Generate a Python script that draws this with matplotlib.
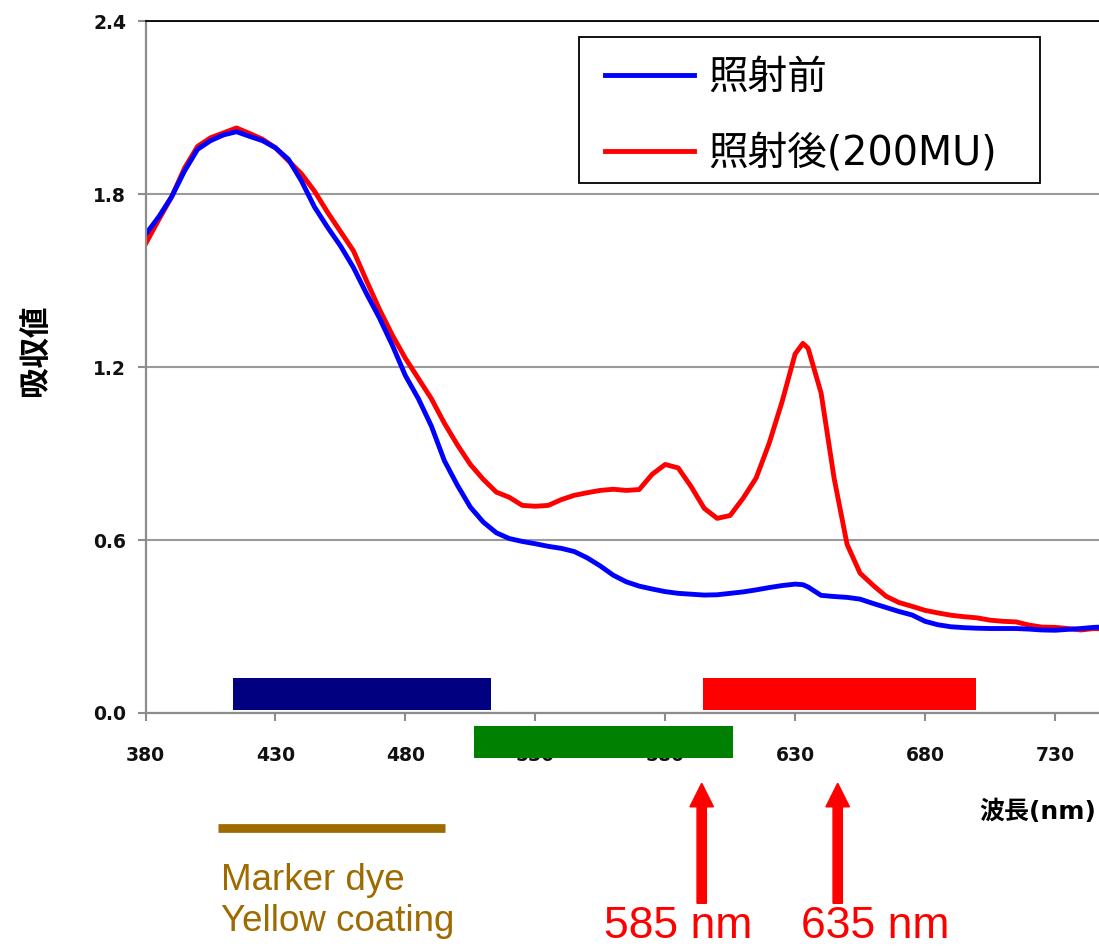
import matplotlib
matplotlib.use('Agg')
import matplotlib.pyplot as plt
from matplotlib.patches import FancyArrow, Rectangle
from matplotlib.font_manager import FontProperties

# ---------------- data ----------------
wavelength = [380, 385, 390, 395, 400, 405, 410, 415, 420, 425, 430, 435, 440, 445,
              450, 455, 460, 465, 470, 475, 480, 485, 490, 495, 500, 505, 510, 515,
              520, 525, 530, 535, 540, 545, 550, 555, 560, 565, 570, 575, 580, 585,
              590, 595, 600, 605, 610, 615, 620, 625, 630, 633, 635, 640, 645, 650,
              655, 660, 665, 670, 675, 680, 685, 690, 695, 700, 705, 710, 715, 720,
              725, 730, 735, 740, 745, 748]

before = [1.66, 1.72, 1.79, 1.88, 1.955, 1.985, 2.005, 2.016, 2.00, 1.985, 1.96, 1.92,
          1.845, 1.755, 1.685, 1.62, 1.545, 1.455, 1.37, 1.275, 1.17, 1.09, 0.995, 0.875,
          0.79, 0.714, 0.662, 0.625, 0.605, 0.595, 0.587, 0.578, 0.571, 0.56, 0.538,
          0.51, 0.478, 0.455, 0.44, 0.43, 0.421, 0.415, 0.412, 0.409, 0.41, 0.415, 0.42,
          0.427, 0.435, 0.442, 0.447, 0.445, 0.437, 0.408, 0.404, 0.401, 0.395, 0.38,
          0.366, 0.352, 0.34, 0.318, 0.306, 0.299, 0.296, 0.294, 0.293, 0.293, 0.293,
          0.291, 0.288, 0.287, 0.29, 0.293, 0.297, 0.298]

after = [1.627, 1.71, 1.79, 1.89, 1.965, 1.995, 2.012, 2.029, 2.01, 1.99, 1.96, 1.915,
         1.87, 1.81, 1.737, 1.67, 1.603, 1.50, 1.40, 1.31, 1.23, 1.16, 1.09, 1.005, 0.93,
         0.862, 0.81, 0.766, 0.748, 0.72, 0.717, 0.72, 0.74, 0.755, 0.764, 0.772, 0.776,
         0.772, 0.775, 0.828, 0.862, 0.85, 0.785, 0.71, 0.675, 0.685, 0.745, 0.815, 0.935,
         1.08, 1.245, 1.282, 1.265, 1.11, 0.815, 0.585, 0.485, 0.443, 0.405, 0.383, 0.37,
         0.356, 0.347, 0.339, 0.334, 0.33, 0.322, 0.318, 0.316, 0.305, 0.298, 0.297,
         0.293, 0.288, 0.293, 0.292]

series_labels = ['照射前', '照射後(200MU)']
series_colors = ['#0000FF', '#FF0000']

# colour bands (wavelength ranges)
band_start = [413.5, 506.5, 594.5]
band_end = [513.0, 606.0, 699.5]
band_colors = ['#000080', '#008000', '#FF0000']
band_level = [0.065, -0.10, 0.065]

dye_start, dye_end = 407.8, 495.2
dye_label = 'Marker dye\nYellow coating'
dye_color = '#9E6B00'

arrow_labels = ['585 nm', '635 nm']

y_ticks = [0.0, 0.6, 1.2, 1.8, 2.4]
x_ticks = [380, 430, 480, 530, 580, 630, 680, 730]

CJK = ['DejaVu Sans', 'Noto Sans CJK JP']

# ---------------- figure ----------------
W, H = 1099, 949
fig = plt.figure(figsize=(W / 100, H / 100), dpi=100)
fig.patch.set_facecolor('white')


def px(x, y):
    """pixel (from top-left) -> inches for dpi_scale_trans"""
    return x / 100.0, (H - y) / 100.0


ax_left, ax_bottom_px, ax_top_px = 145.6, 713.0, 21.0
ax = fig.add_axes([ax_left / W, 1 - ax_bottom_px / H, (W - ax_left) / W,
                   (ax_bottom_px - ax_top_px) / H])
ax.set_xlim(380, 380 + (W - ax_left) / 2.598)
ax.set_ylim(0, 2.4)

ax.set_yticks(y_ticks)
ax.set_yticklabels([f'{v:.1f}' for v in y_ticks])
ax.set_xticks(x_ticks)
ax.set_xticklabels([str(v) for v in x_ticks])
ax.yaxis.grid(True, color='#9a9a9a', linewidth=1.5)
ax.xaxis.grid(False)
ax.set_axisbelow(True)

ax.spines['right'].set_visible(False)
ax.spines['top'].set_color('black')
ax.spines['top'].set_linewidth(1.3)
ax.spines['left'].set_color('#8c8c8c')
ax.spines['left'].set_linewidth(1.6)
ax.spines['bottom'].set_color('#8c8c8c')
ax.spines['bottom'].set_linewidth(1.6)

ax.tick_params(axis='both', direction='out', length=6, width=1.5, color='#8c8c8c',
               labelsize=13.5, labelcolor='#111111')
ax.tick_params(axis='y', pad=8)
ax.tick_params(axis='x', pad=18)
for lab in ax.get_xticklabels() + ax.get_yticklabels():
    lab.set_fontweight('bold')
    lab.set_family('DejaVu Sans')

# curves
l_after, = ax.plot(wavelength, after, color=series_colors[1], lw=3.5, zorder=2,
                   solid_joinstyle='round')
l_before, = ax.plot(wavelength, before, color=series_colors[0], lw=3.5, zorder=2.1,
                    solid_joinstyle='round')

# colour bands
for s0, s1, c, yc in zip(band_start, band_end, band_colors, band_level):
    ax.barh(yc, s1 - s0, left=s0, height=0.111, color=c, clip_on=False, zorder=3)

# legend (frame drawn separately, inside the axes so it stays below the legend)
ax.add_patch(Rectangle(px(579, 182.7), 461 / 100, 146 / 100, transform=fig.dpi_scale_trans,
                       facecolor='white', edgecolor='black', linewidth=1.3, zorder=4,
                       clip_on=False))
leg = ax.legend([l_before, l_after], series_labels,
                prop=FontProperties(family=CJK, size=28.5),
                loc='upper left', bbox_to_anchor=px(605, 57.5),
                bbox_transform=fig.dpi_scale_trans, borderaxespad=0,
                handlelength=2.25, handletextpad=0.37, borderpad=0,
                labelspacing=0.92, frameon=False)
leg.set_zorder(5)
for h in leg.get_lines():
    h.set_linewidth(3.5)

# axis labels
fig.text(*px(35, 350), '吸収値', transform=fig.dpi_scale_trans, rotation=90,
         ha='center', va='center', fontsize=22, fontweight='bold',
         family=['Noto Sans CJK JP', 'DejaVu Sans'])
fig.text(*px(979, 812), '波長(nm)', transform=fig.dpi_scale_trans,
         ha='left', va='center', fontsize=18, fontweight='bold', family=CJK)

# marker dye bar and text
ax.plot([dye_start, dye_end], [-0.399, -0.399], color=dye_color, lw=6.3,
        solid_capstyle='butt', clip_on=False)
fig.text(*px(221, 901), dye_label, transform=fig.dpi_scale_trans, ha='left',
         va='center', fontsize=26.5, color=dye_color, family='Liberation Sans',
         linespacing=1.25)

# arrows and labels
for xc, xt, lab in zip([701.7, 837.7], [678.3, 875.0], arrow_labels):
    x0, y0 = px(xc, 903.3)
    _, y1 = px(xc, 783.3)
    fig.add_artist(FancyArrow(x0, y0, 0, y1 - y0, width=0.093, head_width=0.235,
                              head_length=0.235, length_includes_head=True,
                              color='#FF0000', transform=fig.dpi_scale_trans))
    fig.text(*px(xt, 926), lab, transform=fig.dpi_scale_trans, ha='center',
             va='center', fontsize=32, color='#FF0000', family='Liberation Sans')

fig.savefig('out.png', dpi=100, facecolor='white')
